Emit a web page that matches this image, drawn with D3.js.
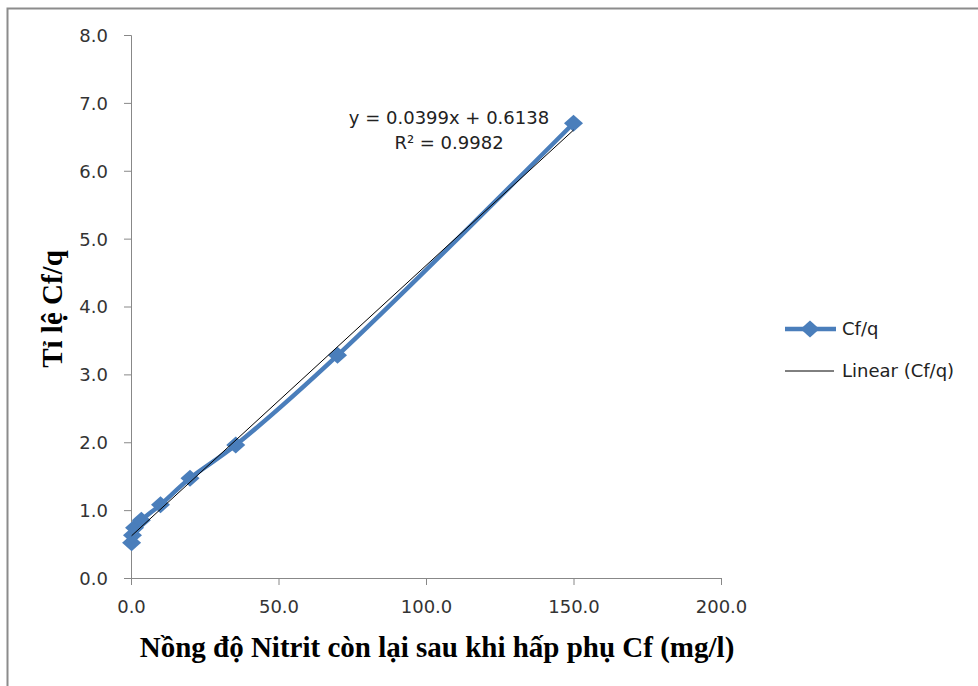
<!DOCTYPE html>
<html><head><meta charset="utf-8">
<script src="https://cdn.jsdelivr.net/npm/d3@7"></script>
<style>body{margin:0;background:#fff;}svg{display:block;}</style>
</head><body>
<script>
const xValues = [0.2, 0.5, 1.2, 3.5, 10, 20, 35.5, 70, 150];
const yValues = [0.52, 0.63, 0.74, 0.85, 1.08, 1.47, 1.96, 3.28, 6.70];
const xTicks = [0, 50, 100, 150, 200];
const yTicks = [0, 1, 2, 3, 4, 5, 6, 7, 8];
const slope = 0.0399, intercept = 0.6138;
const eqText = "y = 0.0399x + 0.6138";
const r2Text = "R² = 0.9982";
const xLabel = "Nồng độ Nitrit còn lại sau khi hấp phụ Cf (mg/l)";
const yLabel = "Tỉ lệ Cf/q";
const seriesName = "Cf/q";
const trendName = "Linear (Cf/q)";

const W = 978, H = 686;
const svg = d3.select("body").append("svg").attr("width", W).attr("height", H);
svg.append("rect").attr("x", 7.5).attr("y", 8.5).attr("width", 1000).attr("height", 700)
  .attr("fill", "#fff").attr("stroke", "#8c8c8c").attr("stroke-width", 2);

const x = d3.scaleLinear().domain([0, 200]).range([131, 721]);
const y = d3.scaleLinear().domain([0, 8]).range([578, 35]);
const tickFont = "'DejaVu Sans', sans-serif";
const fs = "18px";

const yAxis = svg.append("g").attr("transform", "translate(131,0)")
  .call(d3.axisLeft(y).tickValues(yTicks).tickFormat(d3.format(".1f")).tickSize(7).tickSizeOuter(7));
const xAxis = svg.append("g").attr("transform", "translate(0,578)")
  .call(d3.axisBottom(x).tickValues(xTicks).tickFormat(d3.format(".1f")).tickSize(7).tickSizeOuter(7));
[xAxis, yAxis].forEach(g => {
  g.selectAll("path,line").attr("stroke", "#888").attr("stroke-width", 1);
  g.selectAll("text").attr("fill", "#333").style("font-family", tickFont).style("font-size", fs);
});
yAxis.selectAll("text").attr("x", -23).attr("dy", "0.36em");
xAxis.selectAll("text").attr("y", 35).attr("dy", "0");

// series line (smoothed)
const pts = xValues.map((v, i) => [x(v), y(yValues[i])]);
const blue = "#4a7ebb";
svg.append("path").attr("d", d3.line().curve(d3.curveCatmullRom.alpha(0.5))(pts))
  .attr("fill", "none").attr("stroke", blue).attr("stroke-width", 4.5);

// diamond markers
const diamond = { draw(ctx, size) { const w = 9.5, h = 8.5;
  ctx.moveTo(0, -h); ctx.lineTo(w, 0); ctx.lineTo(0, h); ctx.lineTo(-w, 0); ctx.closePath(); } };
const sym = d3.symbol().type(diamond);
svg.append("g").selectAll("path").data(pts).join("path")
  .attr("transform", d => `translate(${d[0]},${d[1]})`)
  .attr("d", sym).attr("fill", blue);

// trendline
const xMin = d3.min(xValues), xMax = d3.max(xValues);
svg.append("line")
  .attr("x1", x(xMin)).attr("y1", y(slope * xMin + intercept))
  .attr("x2", x(xMax)).attr("y2", y(slope * xMax + intercept))
  .attr("stroke", "#000").attr("stroke-width", 1);

// equation labels
svg.append("text").attr("x", 449).attr("y", 124).attr("text-anchor", "middle")
  .style("font-family", tickFont).style("font-size", fs).attr("fill", "#222").text(eqText);
svg.append("text").attr("x", 449).attr("y", 149).attr("text-anchor", "middle")
  .style("font-family", tickFont).style("font-size", fs).attr("fill", "#222").text(r2Text);

// axis titles
const serif = "'Liberation Serif', 'Times New Roman', serif";
svg.append("text").attr("x", 437).attr("y", 657).attr("text-anchor", "middle")
  .style("font-family", serif).style("font-weight", "bold").style("font-size", "29px")
  .attr("fill", "#000").text(xLabel);
svg.append("text").attr("transform", "translate(62,309) rotate(-90)").attr("text-anchor", "middle")
  .style("font-family", serif).style("font-weight", "bold").style("font-size", "29px")
  .attr("fill", "#000").text(yLabel);

// legend
const lg = svg.append("g");
lg.append("line").attr("x1", 785).attr("x2", 836).attr("y1", 329).attr("y2", 329)
  .attr("stroke", blue).attr("stroke-width", 4.5);
lg.append("path").attr("transform", "translate(810,329)").attr("d", sym).attr("fill", blue);
lg.append("text").attr("x", 842).attr("y", 335).style("font-family", tickFont).style("font-size", fs)
  .attr("fill", "#222").text(seriesName);
lg.append("line").attr("x1", 785).attr("x2", 834).attr("y1", 371).attr("y2", 371)
  .attr("stroke", "#000").attr("stroke-width", 1);
lg.append("text").attr("x", 842).attr("y", 377).style("font-family", tickFont).style("font-size", fs)
  .attr("fill", "#222").text(trendName);
</script>
</body></html>
